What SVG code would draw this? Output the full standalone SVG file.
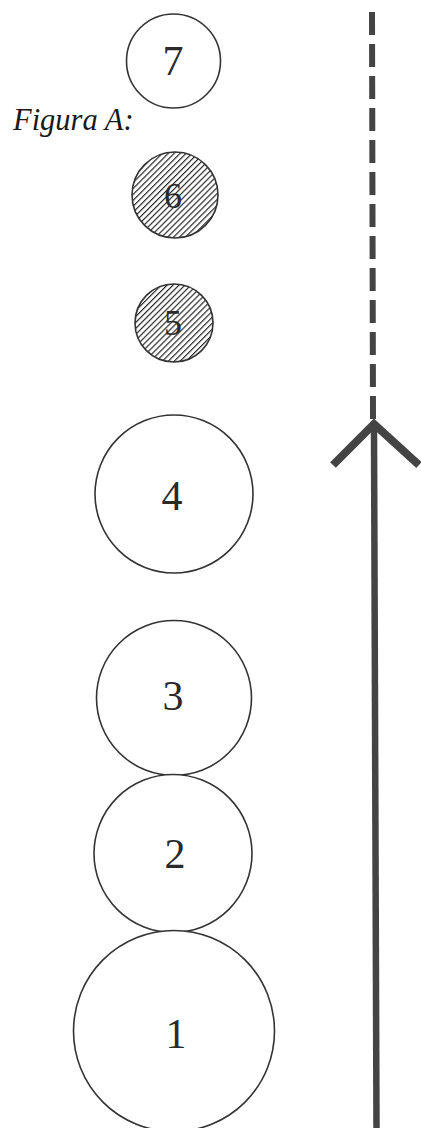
<svg xmlns="http://www.w3.org/2000/svg" width="421" height="1128" viewBox="0 0 421 1128">
  <style>
    .c { fill: #fff; stroke: #333; stroke-width: 1.6; }
    .h { fill: url(#hatch); stroke: #333; stroke-width: 1.6; }
    .n { font-family: "Liberation Serif", "DejaVu Serif", serif; font-size: 42px; fill: #2a2a2a; text-anchor: middle; }
    .ns { font-family: "Liberation Serif", "DejaVu Serif", serif; font-size: 36px; fill: #2a2a2a; text-anchor: middle; }
    .t { font-family: "Liberation Serif", "DejaVu Serif", serif; font-style: italic; font-size: 30.5px; fill: #1a1a1a; }
    .arrow { fill: none; stroke: #444; }
  </style>
  <defs>
    <pattern id="hatch" width="4.2" height="4.2" patternUnits="userSpaceOnUse" patternTransform="rotate(45)">
      <rect width="4.2" height="4.2" fill="#fff"/>
      <line x1="0" y1="0" x2="0" y2="4.2" stroke="#222" stroke-width="2.3"/>
    </pattern>
  </defs>
  <rect width="421" height="1128" fill="#fff"/>

  <g id="title">
    <text class="t" x="13" y="130">Figura A:</text>
  </g>

  <g id="node7">
    <circle class="c" cx="173.5" cy="61" r="47"/>
    <text class="n" x="173" y="75">7</text>
  </g>
  <g id="node6">
    <circle class="h" cx="175" cy="195" r="43"/>
    <text class="ns" x="173" y="208">6</text>
  </g>
  <g id="node5">
    <circle class="h" cx="174" cy="323" r="39"/>
    <text class="ns" x="173" y="335">5</text>
  </g>
  <g id="node4">
    <circle class="c" cx="174" cy="494" r="79"/>
    <text class="n" x="172" y="510">4</text>
  </g>
  <g id="node3">
    <circle class="c" cx="174" cy="698" r="77.5"/>
    <text class="n" x="173" y="710">3</text>
  </g>
  <g id="node2">
    <circle class="c" cx="173" cy="853.5" r="79"/>
    <text class="n" x="175" y="868">2</text>
  </g>
  <g id="node1">
    <circle class="c" cx="174" cy="1031" r="100.5"/>
    <text class="n" x="176" y="1048">1</text>
  </g>

  <g id="connectors">
    <line class="arrow" x1="372" y1="12" x2="373" y2="419" stroke-width="6" stroke-dasharray="23 9"/>
    <line class="arrow" x1="374" y1="428" x2="376.5" y2="1128" stroke-width="6.5"/>
    <polyline class="arrow" points="333,465 374,424 419,465" stroke-width="8" stroke-linejoin="miter"/>
  </g>
</svg>
